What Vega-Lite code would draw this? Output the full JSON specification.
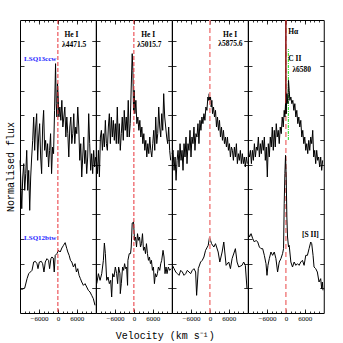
{
"$schema":"https://vega.github.io/schema/vega-lite/v6.json",
"background":"white",
"padding":{"left":5,"top":18,"right":5,"bottom":5},
"bounds":"flush",
"spacing":0,
"title":{"text":"Velocity (km s⁻¹)","orient":"bottom","anchor":"middle","font":"Liberation Mono","fontSize":10,"fontWeight":"normal","color":"#000","offset":9},
"config":{"view":{"stroke":"#000","strokeWidth":1},"concat":{"spacing":0},
"axis":{"domain":false,"grid":false,"tickColor":"#000","tickWidth":0.8,"labelColor":"#000","titleColor":"#000","labelFont":"Liberation Serif","labelFontSize":7,"titleFont":"Liberation Mono","titleFontSize":10,"titleFontWeight":"normal","labelOverlap":false}},
"datasets":{
"p1a":[{"v":-11970,"f":458},{"v":-11655,"f":368},{"v":-11445,"f":313},{"v":-11130,"f":408},{"v":-10815,"f":448},{"v":-10500,"f":368},{"v":-10185,"f":418},{"v":-9870,"f":488},{"v":-9555,"f":368},{"v":-9240,"f":428},{"v":-8925,"f":308},{"v":-8610,"f":408},{"v":-8295,"f":468},{"v":-7980,"f":518},{"v":-7665,"f":588},{"v":-7350,"f":488},{"v":-7035,"f":558},{"v":-6720,"f":598},{"v":-6405,"f":458},{"v":-6090,"f":528},{"v":-5775,"f":568},{"v":-5460,"f":468},{"v":-5145,"f":418},{"v":-4830,"f":558},{"v":-4515,"f":608},{"v":-4200,"f":488},{"v":-3885,"f":518},{"v":-3570,"f":468},{"v":-3255,"f":508},{"v":-2940,"f":438},{"v":-2625,"f":488},{"v":-2310,"f":538},{"v":-1995,"f":418},{"v":-1680,"f":498},{"v":-1365,"f":478},{"v":-1050,"f":608},{"v":-735,"f":748},{"v":-525,"f":628},{"v":-315,"f":588},{"v":-105,"f":688},{"v":105,"f":648},{"v":315,"f":588},{"v":630,"f":618},{"v":945,"f":578},{"v":1260,"f":638},{"v":1575,"f":558},{"v":1890,"f":588},{"v":2205,"f":618},{"v":2520,"f":528},{"v":2835,"f":588},{"v":3150,"f":538},{"v":3465,"f":468},{"v":3780,"f":558},{"v":4095,"f":588},{"v":4410,"f":508},{"v":4725,"f":538},{"v":5040,"f":598},{"v":5355,"f":508},{"v":5670,"f":558},{"v":5985,"f":538},{"v":6300,"f":618},{"v":6615,"f":558},{"v":6930,"f":458},{"v":7245,"f":508},{"v":7560,"f":408},{"v":7875,"f":468},{"v":8190,"f":528},{"v":8505,"f":448},{"v":8820,"f":488},{"v":9135,"f":418},{"v":9450,"f":468},{"v":9765,"f":598},{"v":10080,"f":508},{"v":10395,"f":428},{"v":10710,"f":478},{"v":11025,"f":418},{"v":11340,"f":488},{"v":11655,"f":438},{"v":11970,"f":468}],
"p1b":[{"v":-11970,"f":73},{"v":-11340,"f":71},{"v":-10500,"f":75},{"v":-9765,"f":103},{"v":-9240,"f":118},{"v":-8715,"f":123},{"v":-8190,"f":128},{"v":-7665,"f":153},{"v":-7140,"f":155},{"v":-6615,"f":148},{"v":-6300,"f":133},{"v":-5880,"f":153},{"v":-5250,"f":155},{"v":-4830,"f":148},{"v":-4410,"f":123},{"v":-3990,"f":153},{"v":-3465,"f":163},{"v":-2940,"f":158},{"v":-2625,"f":133},{"v":-2205,"f":163},{"v":-1890,"f":168},{"v":-1470,"f":165},{"v":-1155,"f":123},{"v":-840,"f":173},{"v":-315,"f":178},{"v":210,"f":188},{"v":735,"f":183},{"v":1260,"f":195},{"v":1785,"f":203},{"v":2310,"f":211},{"v":2835,"f":193},{"v":3150,"f":183},{"v":3570,"f":173},{"v":3990,"f":158},{"v":4410,"f":153},{"v":4935,"f":138},{"v":5460,"f":148},{"v":5880,"f":123},{"v":6300,"f":133},{"v":6720,"f":113},{"v":7140,"f":103},{"v":7560,"f":93},{"v":8085,"f":83},{"v":8610,"f":88},{"v":9135,"f":78},{"v":9660,"f":68},{"v":10185,"f":63},{"v":10710,"f":53},{"v":11235,"f":43},{"v":11760,"f":23}],
"p2a":[{"v":-11865,"f":458},{"v":-11550,"f":418},{"v":-11235,"f":488},{"v":-10920,"f":408},{"v":-10605,"f":528},{"v":-10290,"f":548},{"v":-9975,"f":488},{"v":-9660,"f":538},{"v":-9345,"f":498},{"v":-9030,"f":578},{"v":-8715,"f":508},{"v":-8400,"f":488},{"v":-8085,"f":558},{"v":-7770,"f":598},{"v":-7455,"f":508},{"v":-7140,"f":588},{"v":-6825,"f":528},{"v":-6510,"f":578},{"v":-6195,"f":518},{"v":-5880,"f":568},{"v":-5565,"f":508},{"v":-5250,"f":618},{"v":-4935,"f":508},{"v":-4620,"f":568},{"v":-4305,"f":488},{"v":-3990,"f":538},{"v":-3675,"f":588},{"v":-3360,"f":518},{"v":-3045,"f":608},{"v":-2730,"f":548},{"v":-2415,"f":588},{"v":-2100,"f":528},{"v":-1785,"f":638},{"v":-1470,"f":528},{"v":-1155,"f":568},{"v":-840,"f":678},{"v":-525,"f":778},{"v":-315,"f":728},{"v":-105,"f":608},{"v":105,"f":668},{"v":315,"f":598},{"v":630,"f":638},{"v":945,"f":568},{"v":1260,"f":588},{"v":1575,"f":548},{"v":1890,"f":578},{"v":2205,"f":528},{"v":2520,"f":558},{"v":2835,"f":508},{"v":3150,"f":538},{"v":3465,"f":488},{"v":3780,"f":518},{"v":4095,"f":468},{"v":4410,"f":508},{"v":4725,"f":478},{"v":5040,"f":528},{"v":5355,"f":488},{"v":5670,"f":468},{"v":5985,"f":508},{"v":6300,"f":548},{"v":6615,"f":488},{"v":6930,"f":588},{"v":7245,"f":508},{"v":7560,"f":538},{"v":7875,"f":618},{"v":8190,"f":558},{"v":8505,"f":528},{"v":8820,"f":598},{"v":9135,"f":548},{"v":9450,"f":658},{"v":9765,"f":588},{"v":10080,"f":558},{"v":10395,"f":528},{"v":10710,"f":508},{"v":11025,"f":558},{"v":11340,"f":488},{"v":11655,"f":458}],
"p2b":[{"v":-11760,"f":88},{"v":-11235,"f":118},{"v":-10710,"f":98},{"v":-10185,"f":118},{"v":-9660,"f":158},{"v":-9345,"f":210},{"v":-9030,"f":178},{"v":-8610,"f":98},{"v":-8190,"f":108},{"v":-7770,"f":88},{"v":-7350,"f":98},{"v":-7035,"f":48},{"v":-6720,"f":118},{"v":-6300,"f":108},{"v":-5880,"f":138},{"v":-5460,"f":118},{"v":-5145,"f":88},{"v":-4830,"f":138},{"v":-4410,"f":118},{"v":-4305,"f":58},{"v":-3990,"f":88},{"v":-3570,"f":138},{"v":-3255,"f":128},{"v":-2940,"f":148},{"v":-2625,"f":133},{"v":-2310,"f":138},{"v":-1995,"f":83},{"v":-1890,"f":158},{"v":-1470,"f":178},{"v":-1050,"f":178},{"v":-840,"f":198},{"v":-525,"f":270},{"v":-105,"f":273},{"v":210,"f":218},{"v":525,"f":228},{"v":840,"f":198},{"v":1155,"f":238},{"v":1470,"f":218},{"v":1785,"f":228},{"v":2100,"f":198},{"v":2415,"f":208},{"v":2730,"f":238},{"v":3045,"f":188},{"v":3360,"f":198},{"v":3675,"f":178},{"v":3990,"f":208},{"v":4305,"f":178},{"v":4620,"f":158},{"v":4935,"f":168},{"v":5250,"f":148},{"v":5565,"f":158},{"v":5880,"f":128},{"v":6195,"f":138},{"v":6510,"f":88},{"v":6825,"f":118},{"v":7140,"f":108},{"v":7455,"f":118},{"v":7770,"f":138},{"v":8190,"f":128},{"v":8505,"f":148},{"v":8820,"f":158},{"v":9240,"f":188},{"v":9555,"f":168},{"v":9870,"f":118},{"v":10185,"f":138},{"v":10500,"f":118},{"v":10920,"f":138},{"v":11340,"f":128},{"v":11760,"f":133}],
"p3a":[{"v":-11970,"f":478},{"v":-11655,"f":488},{"v":-11340,"f":428},{"v":-11025,"f":468},{"v":-10710,"f":398},{"v":-10395,"f":458},{"v":-10080,"f":488},{"v":-9765,"f":438},{"v":-9450,"f":508},{"v":-9135,"f":458},{"v":-8820,"f":488},{"v":-8505,"f":428},{"v":-8190,"f":508},{"v":-7875,"f":468},{"v":-7560,"f":528},{"v":-7245,"f":448},{"v":-6930,"f":508},{"v":-6615,"f":488},{"v":-6300,"f":548},{"v":-5985,"f":468},{"v":-5670,"f":528},{"v":-5355,"f":508},{"v":-5040,"f":558},{"v":-4725,"f":488},{"v":-4410,"f":538},{"v":-4095,"f":528},{"v":-3780,"f":568},{"v":-3465,"f":508},{"v":-3150,"f":578},{"v":-2835,"f":548},{"v":-2520,"f":588},{"v":-2205,"f":568},{"v":-1890,"f":598},{"v":-1575,"f":578},{"v":-1260,"f":618},{"v":-945,"f":608},{"v":-630,"f":648},{"v":-420,"f":638},{"v":-210,"f":658},{"v":0,"f":628},{"v":210,"f":648},{"v":420,"f":618},{"v":630,"f":638},{"v":840,"f":598},{"v":1155,"f":618},{"v":1470,"f":588},{"v":1785,"f":608},{"v":2100,"f":558},{"v":2415,"f":588},{"v":2730,"f":548},{"v":3045,"f":578},{"v":3360,"f":528},{"v":3675,"f":558},{"v":3990,"f":518},{"v":4305,"f":548},{"v":4620,"f":508},{"v":4935,"f":528},{"v":5250,"f":498},{"v":5565,"f":528},{"v":5880,"f":488},{"v":6195,"f":508},{"v":6510,"f":468},{"v":6825,"f":498},{"v":7140,"f":488},{"v":7455,"f":458},{"v":7770,"f":498},{"v":8085,"f":468},{"v":8400,"f":508},{"v":8715,"f":448},{"v":9030,"f":478},{"v":9345,"f":458},{"v":9660,"f":488},{"v":9975,"f":448},{"v":10290,"f":478},{"v":10605,"f":448},{"v":10920,"f":468},{"v":11235,"f":438},{"v":11550,"f":468},{"v":11865,"f":448}],
"p3b":[{"v":-11865,"f":143},{"v":-11340,"f":133},{"v":-10815,"f":123},{"v":-10290,"f":118},{"v":-9765,"f":113},{"v":-9240,"f":128},{"v":-8715,"f":123},{"v":-8190,"f":113},{"v":-7665,"f":118},{"v":-7140,"f":128},{"v":-6615,"f":123},{"v":-6090,"f":118},{"v":-5565,"f":128},{"v":-5040,"f":133},{"v":-4515,"f":123},{"v":-4200,"f":53},{"v":-3675,"f":133},{"v":-2940,"f":153},{"v":-2415,"f":158},{"v":-1890,"f":168},{"v":-1365,"f":188},{"v":-525,"f":203},{"v":-105,"f":228},{"v":525,"f":208},{"v":1260,"f":198},{"v":1785,"f":208},{"v":2625,"f":183},{"v":3150,"f":153},{"v":3885,"f":183},{"v":4410,"f":213},{"v":5145,"f":143},{"v":5985,"f":153},{"v":6510,"f":133},{"v":7035,"f":163},{"v":8085,"f":193},{"v":8610,"f":153},{"v":9135,"f":138},{"v":10185,"f":143},{"v":10710,"f":153},{"v":11235,"f":143},{"v":11760,"f":73}],
"p4a":[{"v":-11865,"f":478},{"v":-11550,"f":468},{"v":-11235,"f":488},{"v":-10920,"f":448},{"v":-10605,"f":488},{"v":-10290,"f":458},{"v":-9975,"f":508},{"v":-9660,"f":468},{"v":-9345,"f":498},{"v":-9030,"f":488},{"v":-8715,"f":528},{"v":-8400,"f":468},{"v":-8085,"f":508},{"v":-7770,"f":478},{"v":-7455,"f":518},{"v":-7140,"f":488},{"v":-6825,"f":528},{"v":-6510,"f":458},{"v":-6195,"f":498},{"v":-5880,"f":408},{"v":-5565,"f":508},{"v":-5250,"f":468},{"v":-4935,"f":528},{"v":-4620,"f":498},{"v":-4305,"f":558},{"v":-3990,"f":488},{"v":-3675,"f":548},{"v":-3360,"f":498},{"v":-3045,"f":568},{"v":-2730,"f":528},{"v":-2415,"f":548},{"v":-2100,"f":508},{"v":-1785,"f":558},{"v":-1470,"f":538},{"v":-1155,"f":588},{"v":-840,"f":558},{"v":-525,"f":608},{"v":-315,"f":588},{"v":-105,"f":628},{"v":105,"f":598},{"v":315,"f":658},{"v":630,"f":628},{"v":840,"f":698},{"v":1050,"f":668},{"v":1260,"f":638},{"v":1575,"f":648},{"v":1890,"f":628},{"v":2205,"f":638},{"v":2520,"f":608},{"v":2835,"f":628},{"v":3150,"f":588},{"v":3465,"f":608},{"v":3780,"f":568},{"v":4095,"f":588},{"v":4410,"f":558},{"v":4725,"f":578},{"v":5040,"f":528},{"v":5355,"f":548},{"v":5670,"f":508},{"v":5985,"f":528},{"v":6300,"f":488},{"v":6615,"f":508},{"v":6930,"f":478},{"v":7245,"f":518},{"v":7560,"f":488},{"v":7875,"f":528},{"v":8190,"f":508},{"v":8505,"f":548},{"v":8820,"f":468},{"v":9135,"f":488},{"v":9450,"f":448},{"v":9765,"f":488},{"v":10080,"f":458},{"v":10395,"f":468},{"v":10710,"f":438},{"v":11025,"f":468},{"v":11340,"f":428},{"v":11655,"f":458}],
"p4b":[{"v":-11865,"f":238},{"v":-11550,"f":228},{"v":-11025,"f":238},{"v":-10500,"f":223},{"v":-9975,"f":213},{"v":-9450,"f":218},{"v":-8925,"f":213},{"v":-8400,"f":198},{"v":-7875,"f":193},{"v":-7350,"f":193},{"v":-6825,"f":173},{"v":-6300,"f":148},{"v":-5985,"f":113},{"v":-5670,"f":143},{"v":-5250,"f":163},{"v":-4725,"f":183},{"v":-4200,"f":173},{"v":-3675,"f":183},{"v":-3150,"f":163},{"v":-2625,"f":123},{"v":-2100,"f":153},{"v":-1575,"f":163},{"v":-1050,"f":178},{"v":-735,"f":193},{"v":-525,"f":328},{"v":-315,"f":418},{"v":-105,"f":473},{"v":105,"f":408},{"v":315,"f":288},{"v":525,"f":228},{"v":840,"f":198},{"v":1050,"f":203},{"v":1575,"f":153},{"v":2100,"f":138},{"v":2625,"f":153},{"v":3150,"f":143},{"v":3675,"f":148},{"v":4200,"f":143},{"v":4725,"f":153},{"v":5250,"f":158},{"v":5775,"f":143},{"v":6300,"f":173},{"v":6825,"f":173},{"v":7350,"f":193},{"v":7875,"f":213},{"v":8190,"f":208},{"v":8610,"f":173},{"v":8925,"f":138},{"v":9450,"f":133},{"v":9975,"f":123},{"v":10500,"f":93},{"v":11025,"f":103},{"v":11340,"f":73},{"v":11550,"f":93},{"v":11760,"f":68}]
},
"hconcat":[
{"width":75.75,"height":293,
"layer":[
{"data":{"name":"p1a"},"mark":{"type":"line","color":"#000","strokeWidth":1},
"encoding":{"x":{"field":"v","type":"quantitative","scale":{"domain":[-12000,12000],"nice":false,"zero":false},"axis":{"orient":"bottom","values":[-6000,0,6000],"tickSize":-4,"labelPadding":5,"format":"d","title":null}},
"y":{"field":"f","type":"quantitative","scale":{"domain":[0,879],"nice":false,"zero":false},"axis":{"orient":"left","values":[74,148,222,296,371,445,519,593,667,741,815],"tickSize":-4,"labels":false,"title":"Normalised flux","titlePadding":4}}}},
{"data":{"name":"p1b"},"mark":{"type":"line","color":"#000","strokeWidth":1},
"encoding":{"x":{"field":"v","type":"quantitative","scale":{"domain":[-12000,12000],"nice":false,"zero":false},"axis":{"orient":"bottom","values":[-10500,-9000,-7500,-6000,-4500,-3000,-1500,0,1500,3000,4500,6000,7500,9000,10500],"tickSize":-2,"labels":false,"title":null}},
"y":{"field":"f","type":"quantitative","scale":{"domain":[0,879],"nice":false,"zero":false},"axis":{"orient":"right","values":[74,148,222,296,371,445,519,593,667,741,815],"tickSize":-4,"labels":false,"title":null}}}},
{"data":{"values":[{"v":0}]},"mark":{"type":"rule","color":"#e8333a","strokeWidth":1,"strokeDash":[4,2]},
"encoding":{"x":{"field":"v","type":"quantitative","scale":{"domain":[-12000,12000],"nice":false,"zero":false},"axis":{"orient":"top","values":[-10500,-9000,-7500,-6000,-4500,-3000,-1500,0,1500,3000,4500,6000,7500,9000,10500],"tickSize":-2,"labels":false,"title":null}}}},
{"data":{"values":[{"v":4300,"f":834,"t":"He I"},{"v":5150,"f":804,"t":"λ4471.5"}]},"mark":{"type":"text","font":"Liberation Serif","fontSize":7.5,"fontWeight":"bold","color":"#000","align":"center","baseline":"middle"},
"encoding":{"x":{"field":"v","type":"quantitative","scale":{"domain":[-12000,12000],"nice":false,"zero":false},"axis":{"orient":"top","values":[-6000,0,6000],"tickSize":-4,"labels":false,"title":null}},
"y":{"field":"f","type":"quantitative","scale":{"domain":[0,879],"nice":false,"zero":false},"axis":null},"text":{"field":"t"}}},
{"data":{"values":[{"v":-10710,"f":763,"t":"LSQ13ccw"},{"v":-10710,"f":225,"t":"LSQ12btw"}]},"mark":{"type":"text","font":"Liberation Serif","fontSize":7,"fontWeight":"bold","color":"#2323ff","align":"left","baseline":"middle"},
"encoding":{"x":{"field":"v","type":"quantitative","scale":{"domain":[-12000,12000],"nice":false,"zero":false},"axis":null},
"y":{"field":"f","type":"quantitative","scale":{"domain":[0,879],"nice":false,"zero":false},"axis":null},"text":{"field":"t"}}}
],
"resolve":{"axis":{"x":"independent","y":"independent"}}},
{"width":75.75,"height":293,
"layer":[
{"data":{"name":"p2a"},"mark":{"type":"line","color":"#000","strokeWidth":1},
"encoding":{"x":{"field":"v","type":"quantitative","scale":{"domain":[-12000,12000],"nice":false,"zero":false},"axis":{"orient":"bottom","values":[-6000,0,6000],"tickSize":-4,"labelPadding":5,"format":"d","title":null}},
"y":{"field":"f","type":"quantitative","scale":{"domain":[0,879],"nice":false,"zero":false},"axis":{"orient":"left","values":[74,148,222,296,371,445,519,593,667,741,815],"tickSize":-4,"labels":false,"title":null}}}},
{"data":{"name":"p2b"},"mark":{"type":"line","color":"#000","strokeWidth":1},
"encoding":{"x":{"field":"v","type":"quantitative","scale":{"domain":[-12000,12000],"nice":false,"zero":false},"axis":{"orient":"bottom","values":[-10500,-9000,-7500,-6000,-4500,-3000,-1500,0,1500,3000,4500,6000,7500,9000,10500],"tickSize":-2,"labels":false,"title":null}},
"y":{"field":"f","type":"quantitative","scale":{"domain":[0,879],"nice":false,"zero":false},"axis":{"orient":"right","values":[74,148,222,296,371,445,519,593,667,741,815],"tickSize":-4,"labels":false,"title":null}}}},
{"data":{"values":[{"v":0}]},"mark":{"type":"rule","color":"#e8333a","strokeWidth":1,"strokeDash":[4,2]},
"encoding":{"x":{"field":"v","type":"quantitative","scale":{"domain":[-12000,12000],"nice":false,"zero":false},"axis":{"orient":"top","values":[-10500,-9000,-7500,-6000,-4500,-3000,-1500,0,1500,3000,4500,6000,7500,9000,10500],"tickSize":-2,"labels":false,"title":null}}}},
{"data":{"values":[{"v":4515,"f":834,"t":"He I"},{"v":4935,"f":804,"t":"λ5015.7"}]},"mark":{"type":"text","font":"Liberation Serif","fontSize":7.5,"fontWeight":"bold","color":"#000","align":"center","baseline":"middle"},
"encoding":{"x":{"field":"v","type":"quantitative","scale":{"domain":[-12000,12000],"nice":false,"zero":false},"axis":{"orient":"top","values":[-6000,0,6000],"tickSize":-4,"labels":false,"title":null}},
"y":{"field":"f","type":"quantitative","scale":{"domain":[0,879],"nice":false,"zero":false},"axis":null},"text":{"field":"t"}}}
],
"resolve":{"axis":{"x":"independent","y":"independent"}}},
{"width":75.75,"height":293,
"layer":[
{"data":{"name":"p3a"},"mark":{"type":"line","color":"#000","strokeWidth":1},
"encoding":{"x":{"field":"v","type":"quantitative","scale":{"domain":[-12000,12000],"nice":false,"zero":false},"axis":{"orient":"bottom","values":[-6000,0,6000],"tickSize":-4,"labelPadding":5,"format":"d","title":null}},
"y":{"field":"f","type":"quantitative","scale":{"domain":[0,879],"nice":false,"zero":false},"axis":{"orient":"left","values":[74,148,222,296,371,445,519,593,667,741,815],"tickSize":-4,"labels":false,"title":null}}}},
{"data":{"name":"p3b"},"mark":{"type":"line","color":"#000","strokeWidth":1},
"encoding":{"x":{"field":"v","type":"quantitative","scale":{"domain":[-12000,12000],"nice":false,"zero":false},"axis":{"orient":"bottom","values":[-10500,-9000,-7500,-6000,-4500,-3000,-1500,0,1500,3000,4500,6000,7500,9000,10500],"tickSize":-2,"labels":false,"title":null}},
"y":{"field":"f","type":"quantitative","scale":{"domain":[0,879],"nice":false,"zero":false},"axis":{"orient":"right","values":[74,148,222,296,371,445,519,593,667,741,815],"tickSize":-4,"labels":false,"title":null}}}},
{"data":{"values":[{"v":0}]},"mark":{"type":"rule","color":"#f28b8b","strokeWidth":1.6,"strokeDash":[5,3]},
"encoding":{"x":{"field":"v","type":"quantitative","scale":{"domain":[-12000,12000],"nice":false,"zero":false},"axis":{"orient":"top","values":[-10500,-9000,-7500,-6000,-4500,-3000,-1500,0,1500,3000,4500,6000,7500,9000,10500],"tickSize":-2,"labels":false,"title":null}}}},
{"data":{"values":[{"v":6405,"f":834,"t":"He I"},{"v":6510,"f":806,"t":"λ5875.6"}]},"mark":{"type":"text","font":"Liberation Serif","fontSize":7.5,"fontWeight":"bold","color":"#000","align":"center","baseline":"middle"},
"encoding":{"x":{"field":"v","type":"quantitative","scale":{"domain":[-12000,12000],"nice":false,"zero":false},"axis":{"orient":"top","values":[-6000,0,6000],"tickSize":-4,"labels":false,"title":null}},
"y":{"field":"f","type":"quantitative","scale":{"domain":[0,879],"nice":false,"zero":false},"axis":null},"text":{"field":"t"}}}
],
"resolve":{"axis":{"x":"independent","y":"independent"}}},
{"width":75.75,"height":293,
"layer":[
{"data":{"values":[{"v":0}]},"mark":{"type":"rule","color":"#f28b8b","strokeWidth":1.6,"strokeDash":[5,3]},
"encoding":{"x":{"field":"v","type":"quantitative","scale":{"domain":[-12000,12000],"nice":false,"zero":false},"axis":{"orient":"top","values":[-10500,-9000,-7500,-6000,-4500,-3000,-1500,0,1500,3000,4500,6000,7500,9000,10500],"tickSize":-2,"labels":false,"title":null}}}},
{"data":{"values":[{"v":0,"f":597,"f2":879}]},"mark":{"type":"rule","color":"#8e1c1c","strokeWidth":1.6},
"encoding":{"x":{"field":"v","type":"quantitative","scale":{"domain":[-12000,12000],"nice":false,"zero":false},"axis":null},
"y":{"field":"f","type":"quantitative","scale":{"domain":[0,879],"nice":false,"zero":false},"axis":null},"y2":{"field":"f2"}}},
{"data":{"values":[{"v":780,"f":519,"f2":792}]},"mark":{"type":"rule","color":"#22dd22","strokeWidth":1,"strokeDash":[3,1,1,1]},
"encoding":{"x":{"field":"v","type":"quantitative","scale":{"domain":[-12000,12000],"nice":false,"zero":false},"axis":null},
"y":{"field":"f","type":"quantitative","scale":{"domain":[0,879],"nice":false,"zero":false},"axis":null},"y2":{"field":"f2"}}},
{"data":{"name":"p4a"},"mark":{"type":"line","color":"#000","strokeWidth":1},
"encoding":{"x":{"field":"v","type":"quantitative","scale":{"domain":[-12000,12000],"nice":false,"zero":false},"axis":{"orient":"bottom","values":[-6000,0,6000],"tickSize":-4,"labelPadding":5,"format":"d","title":null}},
"y":{"field":"f","type":"quantitative","scale":{"domain":[0,879],"nice":false,"zero":false},"axis":{"orient":"left","values":[74,148,222,296,371,445,519,593,667,741,815],"tickSize":-4,"labels":false,"title":null}}}},
{"data":{"name":"p4b"},"mark":{"type":"line","color":"#000","strokeWidth":1},
"encoding":{"x":{"field":"v","type":"quantitative","scale":{"domain":[-12000,12000],"nice":false,"zero":false},"axis":{"orient":"bottom","values":[-10500,-9000,-7500,-6000,-4500,-3000,-1500,0,1500,3000,4500,6000,7500,9000,10500],"tickSize":-2,"labels":false,"title":null}},
"y":{"field":"f","type":"quantitative","scale":{"domain":[0,879],"nice":false,"zero":false},"axis":{"orient":"right","values":[74,148,222,296,371,445,519,593,667,741,815],"tickSize":-4,"labels":false,"title":null}}}},
{"data":{"values":[{"v":2310,"f":843,"t":"Hα"},{"v":2835,"f":763,"t":"C II"},{"v":5040,"f":728,"t":"λ6580"},{"v":7770,"f":234,"t":"[S II]"}]},"mark":{"type":"text","font":"Liberation Serif","fontSize":7.5,"fontWeight":"bold","color":"#000","align":"center","baseline":"middle"},
"encoding":{"x":{"field":"v","type":"quantitative","scale":{"domain":[-12000,12000],"nice":false,"zero":false},"axis":{"orient":"top","values":[-6000,0,6000],"tickSize":-4,"labels":false,"title":null}},
"y":{"field":"f","type":"quantitative","scale":{"domain":[0,879],"nice":false,"zero":false},"axis":null},"text":{"field":"t"}}}
],
"resolve":{"axis":{"x":"independent","y":"independent"}}}
]
}
